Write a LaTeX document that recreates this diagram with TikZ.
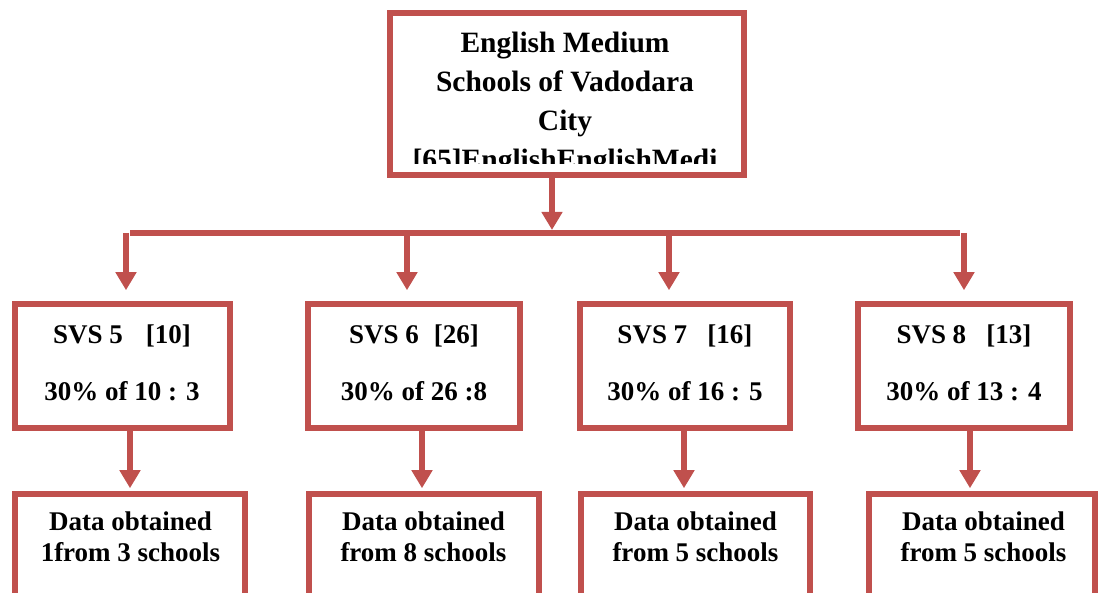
\documentclass[tikz,border=0pt]{standalone}
\usepackage{fontspec}
\setmainfont{Liberation Serif}
\usetikzlibrary{arrows.meta}
\definecolor{boxred}{RGB}{192,80,77}
\begin{document}
\begin{tikzpicture}[x=1pt,y=1pt,
  frame/.style={draw=boxred, line width=5.5pt, inner sep=0pt, fill=white},
  wire/.style={draw=boxred, line width=5.5pt},
  arr/.style={draw=boxred, line width=5.5pt, -{Triangle[width=20pt,length=18pt]}},
  lbl/.style={font=\fontsize{27}{31}\selectfont\bfseries, align=center, inner sep=0pt},
]
\useasboundingbox (0,0) rectangle (1104,593);
% top box
\node[frame, minimum width=354pt, minimum height=162pt] (top) at (567,499) {};
\begin{scope}
\clip (393,577) rectangle (741,429);
\node[lbl, font=\fontsize{29.5}{39}\selectfont\bfseries] (toptext) at (565,489)
  {English Medium\\Schools of Vadodara\\City\\{}[65]EnglishEnglishMedi};
\end{scope}
% bus
\coordinate (bl) at (130,360);
\coordinate (br) at (960,360);
\coordinate (tj) at (552,363);
\draw[wire] (bl) -- (br);
\draw[arr] (top.south -| tj) -- (tj);
% SVS boxes
\node[frame, minimum width=215pt, minimum height=124pt] (s1) at (122.5,227) {};
\node[frame, minimum width=212pt, minimum height=124pt] (s2) at (414,227) {};
\node[frame, minimum width=210pt, minimum height=124pt] (s3) at (685,227) {};
\node[frame, minimum width=212pt, minimum height=124pt] (s4) at (964,227) {};
\node[lbl] (t1) at (122,230.4) {SVS 5\hspace{0.85em}[10]\\[26pt]30\% of 10 : 3};
\node[lbl] (t2) at (414,230.4) {SVS 6\hspace{0.55em}[26]\\[26pt]30\% of 26 :8};
\node[lbl] (t3) at (685,230.4) {SVS 7\hspace{0.75em}[16]\\[26pt]30\% of 16 : 5};
\node[lbl] (t4) at (964,230.4) {SVS 8\hspace{0.75em}[13]\\[26pt]30\% of 13 : 4};
% bus drops
\coordinate (j1) at (126,360);
\coordinate (j2) at (407,360);
\coordinate (j3) at (669,360);
\coordinate (j4) at (964,360);
\draw[arr, shorten >=11pt] (j1) -- (j1 |- s1.north);
\draw[arr, shorten >=11pt] (j2) -- (j2 |- s2.north);
\draw[arr, shorten >=11pt] (j3) -- (j3 |- s3.north);
\draw[arr, shorten >=11pt] (j4) -- (j4 |- s4.north);
% data boxes
\node[frame, minimum width=230pt, minimum height=103pt] (d1) at (130,47.5) {};
\node[frame, minimum width=230pt, minimum height=103pt] (d2) at (424,47.5) {};
\node[frame, minimum width=229pt, minimum height=103pt] (d3) at (695.5,47.5) {};
\node[frame, minimum width=226pt, minimum height=103pt] (d4) at (982,47.5) {};
\node[lbl] (e1) at (130.5,56.3) {Data obtained\\1from 3 schools};
\node[lbl] (e2) at (423.5,56.3) {Data obtained\\from 8 schools};
\node[lbl] (e3) at (695.5,56.3) {Data obtained\\from 5 schools};
\node[lbl] (e4) at (983.5,56.3) {Data obtained\\from 5 schools};
% SVS -> data
\draw[arr, shorten >=3pt] ([xshift=7.5pt]s1.south) -- ([xshift=7.5pt]s1.south |- d1.north);
\draw[arr, shorten >=3pt] ([xshift=8pt]s2.south) -- ([xshift=8pt]s2.south |- d2.north);
\draw[arr, shorten >=3pt] ([xshift=-1pt]s3.south) -- ([xshift=-1pt]s3.south |- d3.north);
\draw[arr, shorten >=3pt] ([xshift=6pt]s4.south) -- ([xshift=6pt]s4.south |- d4.north);
\end{tikzpicture}
\end{document}
